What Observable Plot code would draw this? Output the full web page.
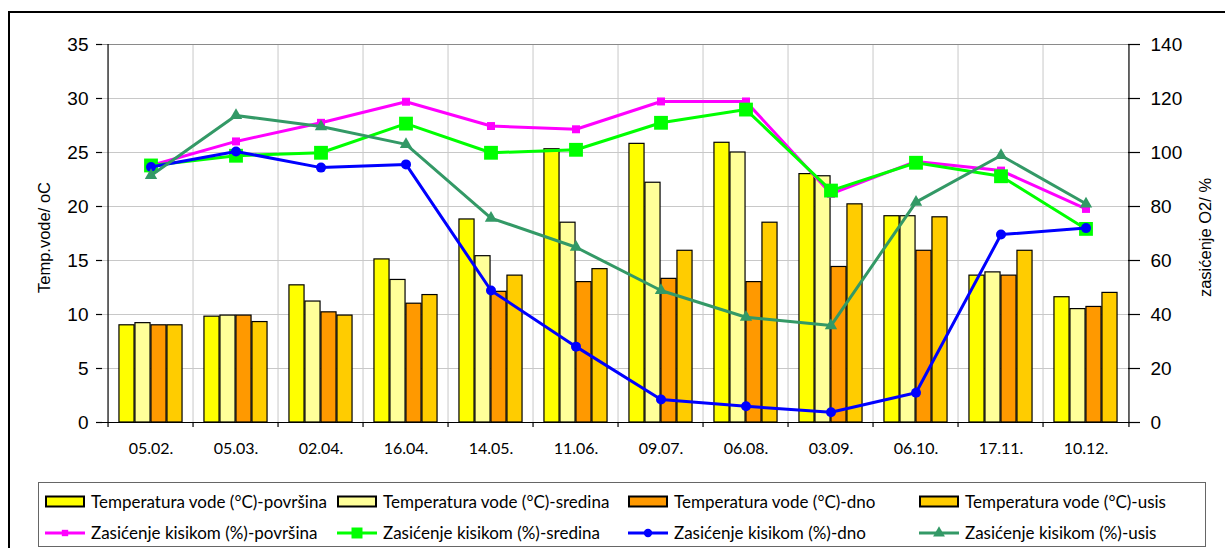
<!DOCTYPE html>
<html>
<head>
<meta charset="utf-8">
<script src="https://cdn.jsdelivr.net/npm/d3@7"></script>
<script src="https://cdn.jsdelivr.net/npm/@observablehq/plot@0.6"></script>
<style>
  html, body { margin: 0; padding: 0; background: #fff; width: 1225px; height: 548px; overflow: hidden; position: relative; }
  #frame { position: absolute; left: 8px; top: 11px; width: 1400px; height: 700px; border-left: 2px solid #000; border-top: 2px solid #000; }
  #chart { position: absolute; left: 0; top: 0; }
  #legend { position: absolute; left: 38px; top: 482px; width: 1168px; height: 65px; border: 1px solid #666; box-sizing: border-box; background: #fff; font-family: Lato, "Open Sans", sans-serif; font-size: 17px; color: #000; }
  .item { position: absolute; display: flex; align-items: center; white-space: nowrap; height: 20px; }
  .item svg { display: block; margin-right: 6px; }
</style>
</head>
<body>
<div id="frame"></div>
<div id="chart"></div>
<div id="legend"></div>
<script>
// ---- data ----
const dates = ["05.02.", "05.03.", "02.04.", "16.04.", "14.05.", "11.06.", "09.07.", "06.08.", "03.09.", "06.10.", "17.11.", "10.12."];

const tempPovrsina = [9.0, 9.8, 12.7, 15.1, 18.8, 25.3, 25.8, 25.9, 23.0, 19.1, 13.6, 11.6];
const tempSredina  = [9.2, 9.9, 11.2, 13.2, 15.4, 18.5, 22.2, 25.0, 22.8, 19.1, 13.9, 10.5];
const tempDno      = [9.0, 9.9, 10.2, 11.0, 12.1, 13.0, 13.3, 13.0, 14.4, 15.9, 13.6, 10.7];
const tempUsis     = [9.0, 9.3, 9.9, 11.8, 13.6, 14.2, 15.9, 18.5, 20.2, 19.0, 15.9, 12.0];

const o2Povrsina = [95.2, 104.1, 111.0, 118.8, 109.8, 108.6, 118.9, 118.9, 84.7, 96.7, 93.3, 79.1];
const o2Sredina  = [95.2, 98.8, 99.9, 110.7, 99.9, 101.0, 111.0, 115.9, 85.9, 96.2, 91.2, 71.7];
const o2Dno      = [94.6, 100.4, 94.4, 95.6, 48.9, 28.1, 8.5, 6.0, 3.8, 11.0, 69.6, 72.0];
const o2Usis     = [91.5, 113.7, 109.6, 103.0, 75.7, 64.9, 48.9, 39.0, 35.9, 81.6, 98.9, 81.0];

const tempTicks = [0, 5, 10, 15, 20, 25, 30, 35];
const o2Ticks = [0, 20, 40, 60, 80, 100, 120, 140];

const barNames = ["Temperatura vode (°C)-površina", "Temperatura vode (°C)-sredina", "Temperatura vode (°C)-dno", "Temperatura vode (°C)-usis"];
const lineNames = ["Zasićenje kisikom (%)-površina", "Zasićenje kisikom (%)-sredina", "Zasićenje kisikom (%)-dno", "Zasićenje kisikom (%)-usis"];
const leftLabel = "Temp.vode/ oC";
const rightLabel = "zasićenje O2/ %";

// ---- styles ----
const barColors = ["#FFFF00", "#FFFF99", "#FF9900", "#FFCC00"];
const lineColors = ["#FF00FF", "#00FF00", "#0000FF", "#339966"];
const symbols = ["square", "square", "circle", "triangle"];
const symbolR = [4.5, 7.8, 5, 4.6];
const legendR = [3.6, 6.2, 4.2, 4.4];

const W = 1225, H = 475, mL = 102, mR = 92, mT = 44, mB = 53;
const bw = (W - mL - mR) / dates.length;
const barW = 16;
const inset = (bw - barW) / 2;
const O2_TO_T = 35 / 140;

const barSeries = [tempPovrsina, tempSredina, tempDno, tempUsis];
const lineSeries = [o2Povrsina, o2Sredina, o2Dno, o2Usis];

const barMarks = barSeries.map((vals, k) =>
  Plot.barY(dates.map((d, i) => ({d, v: vals[i]})), {
    x: "d", y: "v", fill: barColors[k], stroke: "#000", strokeWidth: 1.2,
    insetLeft: inset, insetRight: inset, dx: (k - 1.5) * barW
  })
);

const lineMarks = lineSeries.flatMap((vals, k) => {
  const data = dates.map((d, i) => ({d, v: vals[i] * O2_TO_T}));
  return [
    Plot.line(data, {x: "d", y: "v", stroke: lineColors[k], strokeWidth: 3}),
    Plot.dot(data, {x: "d", y: "v", symbol: symbols[k], r: symbolR[k], fill: lineColors[k], stroke: "none"})
  ];
});

const chart = Plot.plot({
  width: W, height: H,
  marginLeft: mL, marginRight: mR, marginTop: mT, marginBottom: mB,
  x: {type: "band", domain: dates, padding: 0, axis: null},
  y: {domain: [0, 35], axis: null},
  style: {background: "none", color: "#000", fontFamily: "'Liberation Sans', Arial, sans-serif", fontSize: "19px", overflow: "visible"},
  marks: [
    Plot.gridY({ticks: tempTicks.filter(t => t > 0 && t < 35), stroke: "#c8c8c8", strokeOpacity: 1}),
    Plot.gridX({ticks: dates.slice(1), dx: -bw / 2, stroke: "#c8c8c8", strokeOpacity: 1}),
    Plot.ruleY([35], {stroke: "#8a8a8a", strokeWidth: 1.2}),
    ...barMarks,
    ...lineMarks,
    Plot.ruleY([0], {stroke: "#000", strokeWidth: 1.2}),
    Plot.ruleX([dates[0]], {x: d => d, dx: -bw / 2, stroke: "#000", strokeWidth: 1.2}),
    Plot.ruleX([dates[dates.length - 1]], {x: d => d, dx: bw / 2, stroke: "#000", strokeWidth: 1.2}),
    // left axis
    Plot.axisY({anchor: "left", ticks: tempTicks, tickSize: 6, tickPadding: 8, label: null, strokeWidth: 1.2}),
    // right axis (oxygen saturation)
    Plot.axisY({anchor: "right", ticks: o2Ticks.map(v => v * O2_TO_T), tickFormat: d => d3.format("d")(Math.round(d / O2_TO_T)), tickSize: 6, tickPadding: 11, label: null, strokeWidth: 1.2}),
    Plot.axisY({anchor: "right", ticks: o2Ticks.map(v => v * O2_TO_T), tickFormat: () => "", tickSize: 6, dx: -6, label: null, strokeWidth: 1.2}),
    // x axis boundary ticks
    Plot.axisX({ticks: dates, tickSize: 5, dx: -bw / 2, tickFormat: () => "", label: null, strokeWidth: 1.2}),
    Plot.axisX({ticks: [dates[dates.length - 1]], tickSize: 5, dx: bw / 2, tickFormat: () => "", label: null, strokeWidth: 1.2}),
    // x labels
    Plot.axisX({ticks: dates, tickSize: 0, tickPadding: 20, label: null, fontFamily: "Lato, 'Open Sans', sans-serif", fontSize: 16}),
    // axis titles
    Plot.text([leftLabel], {text: d => d, frameAnchor: "left", dx: -58, dy: 4, rotate: -90, textAnchor: "middle", lineAnchor: "middle", fontSize: 16.5}),
    Plot.text([rightLabel], {text: d => d, frameAnchor: "right", dx: 72, dy: 4, rotate: -90, textAnchor: "middle", lineAnchor: "middle", fontSize: 16.5})
  ]
});
document.getElementById("chart").appendChild(chart);

// ---- legend ----
const legend = document.getElementById("legend");
const colX = [44, 336, 627, 918];
const legendLeft = 38, legendTop = 482;
function barSwatch(color) {
  return `<svg width="40" height="14"><rect x="1" y="1.5" width="38" height="10" fill="${color}" stroke="#000" stroke-width="2"/></svg>`;
}
function lineSwatch(color, symbol, r) {
  const sym = d3.symbol(symbol === "square" ? d3.symbolSquare : symbol === "circle" ? d3.symbolCircle : d3.symbolTriangle, Math.PI * r * r)();
  return `<svg width="40" height="18"><line x1="0" x2="40" y1="9" y2="9" stroke="${color}" stroke-width="3"/><path d="${sym}" transform="translate(20,9)" fill="${color}"/></svg>`;
}
barNames.forEach((name, k) => {
  const div = document.createElement("div");
  div.className = "item";
  div.style.left = (colX[k] - legendLeft) + "px";
  div.style.top = (500.5 - 10 - legendTop) + "px";
  div.innerHTML = barSwatch(barColors[k]) + `<span>${name}</span>`;
  legend.appendChild(div);
});
lineNames.forEach((name, k) => {
  const div = document.createElement("div");
  div.className = "item";
  div.style.left = (colX[k] - legendLeft) + "px";
  div.style.top = (531.5 - 10 - legendTop) + "px";
  div.innerHTML = lineSwatch(lineColors[k], symbols[k], legendR[k]) + `<span>${name}</span>`;
  legend.appendChild(div);
});
</script>
</body>
</html>
